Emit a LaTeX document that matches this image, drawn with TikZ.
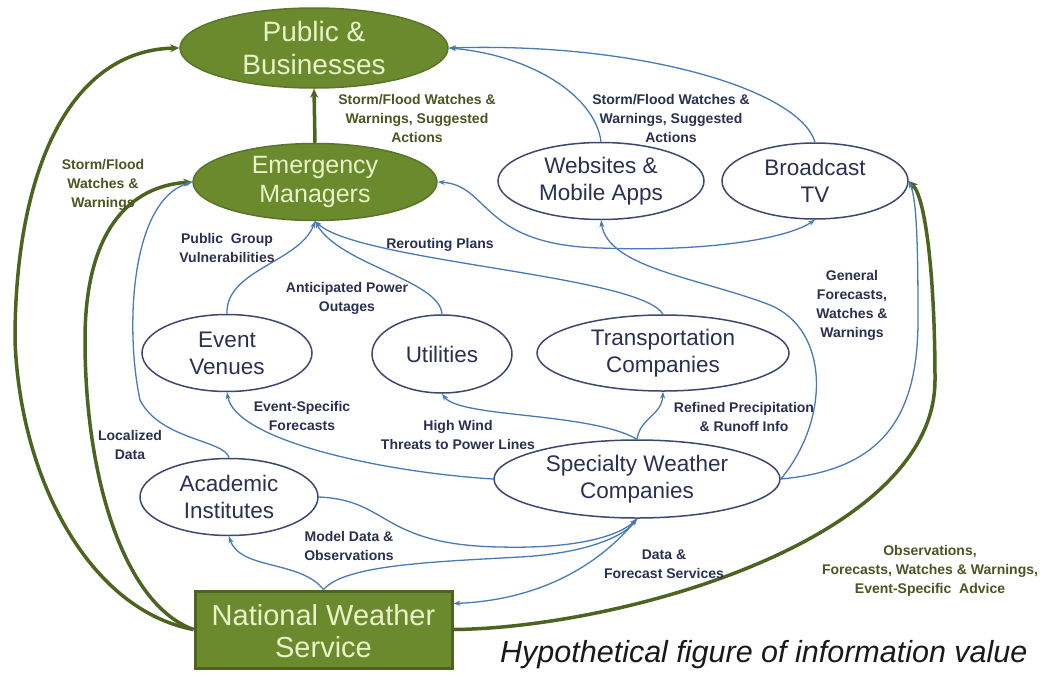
\documentclass[tikz,border=0pt]{standalone}
\usepackage{fontspec}
\setmainfont{Liberation Sans}
\usetikzlibrary{shapes.geometric,arrows.meta}

\definecolor{flowblue}{HTML}{4A79B8}
\definecolor{inknavy}{HTML}{2B3052}
\definecolor{ringnavy}{HTML}{3D4870}
\definecolor{leaffill}{HTML}{6B8A2E}
\definecolor{leafedge}{HTML}{58752A}
\definecolor{leafline}{HTML}{4D6320}
\definecolor{leaftext}{HTML}{E8F4C8}
\definecolor{olivetext}{HTML}{4E5421}

\tikzset{
  actor/.style={ellipse, draw=ringnavy, line width=1.5pt, fill=white, inner sep=0pt},
  actortext/.style={text=inknavy, align=center, font=\fontsize{22.5}{27}\selectfont},
  hub/.style={ellipse, draw=leafedge, line width=1.5pt, fill=leaffill, inner sep=0pt},
  hubtext/.style={text=leaftext, align=center},
  flow/.style={draw=flowblue, line width=1.3pt, -{Stealth[length=7pt,width=5pt]}},
  twoway/.style={draw=flowblue, line width=1.3pt, {Stealth[length=7pt,width=5pt]}-{Stealth[length=7pt,width=5pt]}},
  trunk/.style={draw=leafline, line width=3.5pt, -{Stealth[length=9pt,width=8pt]}},
  tag/.style={text=inknavy, align=center, inner sep=0pt, font=\fontsize{14}{19}\selectfont\bfseries},
  olivetag/.style={tag, text=olivetext},
}

\begin{document}
\begin{tikzpicture}[x=1pt,y=-1pt]
\useasboundingbox (0,0) rectangle (1054,672);
\fill[white] (0,0) rectangle (1054,672);

% ---- green hubs ----
\node[hub, minimum width=268pt, minimum height=80pt,
      label={[hubtext, font=\fontsize{28}{33}\selectfont]center:Public \&\\Businesses}] (pub) at (314,48) {};
\node[hub, minimum width=244pt, minimum height=77pt,
      label={[hubtext, font=\fontsize{25}{29}\selectfont]center:Emergency\\Managers}] (em) at (315,182) {};

% ---- outlined actors ----
\node[actor, minimum width=206pt, minimum height=77pt,
      label={[actortext]center:Websites \&\\Mobile Apps}] (web) at (601,181) {};
\node[actor, minimum width=186pt, minimum height=76pt,
      label={[actortext]center:Broadcast\\TV}] (bt) at (815,181) {};
\node[actor, minimum width=170pt, minimum height=77pt,
      label={[actortext]center:Event\\Venues}] (ev) at (227,353) {};
\node[actor, minimum width=140pt, minimum height=78pt,
      label={[actortext]center:Utilities}] (ut) at (442,354) {};
\node[actor, minimum width=252pt, minimum height=76pt,
      label={[actortext]center:Transportation\\Companies}] (tr) at (663,353) {};
\node[actor, minimum width=178pt, minimum height=77pt,
      label={[actortext]center:Academic\\Institutes}] (ac) at (229,497) {};
\node[actor, minimum width=286pt, minimum height=78pt,
      label={[actortext]center:Specialty Weather\\Companies}] (sp) at (637,479) {};

% ---- National Weather Service box ----
\node[rectangle, draw=leafline, line width=3pt, fill=leaffill,
      minimum width=257pt, minimum height=77pt,
      label={[hubtext, font=\fontsize{29}{32}\selectfont, yshift=-2pt]center:National Weather\\Service}] (nws) at (323.5,629.5) {};

% ---- heavy green channels ----
\draw[trunk] (em.north) -- (pub.south);
\draw[trunk] (nws.west) .. controls (90,610) and (20,480) .. (15,340)
  .. controls (15,170) and (70,50) .. (pub.west);
\draw[trunk] (nws.west) .. controls (125,605) and (85,480) .. (85,340)
  .. controls (85,230) and (130,186) .. (em.west);
\draw[trunk] (nws.east) .. controls (620,628) and (935,540) .. (935,380)
  .. controls (935,280) and (926,198) .. (bt.east);

% ---- media to the public ----
\draw[flow] (web.north) .. controls (595,95) and (530,55) .. (pub.east);
\draw[flow] (bt.north) .. controls (800,90) and (640,42) .. (pub.east);
\draw[twoway] (em.east) .. controls (490,185) and (480,245) .. (600,248)
  .. controls (700,252) and (785,240) .. (bt.south);

% ---- specialty weather companies outward ----
\draw[flow] (sp.east) .. controls (830,420) and (830,330) .. (770,305)
  .. controls (700,278) and (608,268) .. (web.south);
\draw[flow] (sp.east) .. controls (880,470) and (918,420) .. (918,320)
  .. controls (918,250) and (917,200) .. (bt.east);
\draw[flow] (sp.north) .. controls (640,418) and (662,415) .. (tr.south);
\draw[flow] (sp.north) .. controls (590,412) and (460,418) .. (ut.south);
\draw[flow] (sp.west) .. controls (380,472) and (235,440) .. (ev.south);

% ---- into the emergency managers ----
\draw[flow] (tr.north) .. controls (640,275) and (360,262) .. (em.south);
\draw[flow] (ut.north) .. controls (440,280) and (340,265) .. (em.south);
\draw[flow] (ev.north) .. controls (225,270) and (300,262) .. (em.south);
\draw[flow] (ac.north) .. controls (225,440) and (160,440) .. (140,400)
  .. controls (125,330) and (130,200) .. (em.west);

% ---- data exchange around the weather service ----
\draw[flow] (ac.east) .. controls (390,500) and (380,545) .. (500,547)
  .. controls (580,549) and (620,535) .. (sp.south);
\draw[flow] (nws.north) .. controls (345,565) and (430,562) .. (520,557)
  .. controls (590,553) and (625,535) .. (sp.south);
\draw[flow] (sp.south) .. controls (600,565) and (540,600) .. ([yshift=26pt]nws.east);
\draw[flow] (nws.north) .. controls (300,560) and (240,570) .. (ac.south);

% ---- connector labels ----
\node[olivetag] (t1) at (417,118) {Storm/Flood Watches \&\\Warnings, Suggested\\Actions};
\node[olivetag] (t2) at (103,185) {Storm/Flood\\Watches \&\\Warnings};
\node[tag] (t3) at (671,118) {Storm/Flood Watches \&\\Warnings, Suggested\\Actions};
\node[tag] (t4) at (227,248) {Public\ \ Group\\Vulnerabilities};
\node[tag] (t5) at (440,245) {Rerouting Plans};
\node[tag] (t6) at (347,298) {Anticipated Power\\Outages};
\node[tag] (t7) at (852,305) {General\\Forecasts,\\Watches \&\\Warnings};
\node[tag] (t8) at (744,417) {Refined Precipitation\\\& Runoff Info};
\node[tag] (t9) at (302,416) {Event-Specific\\Forecasts};
\node[tag] (t10) at (458,435) {High Wind\\Threats to Power Lines};
\node[tag] (t11) at (130,445) {Localized\\Data};
\node[tag] (t12) at (349,546) {Model Data \&\\Observations};
\node[tag] (t13) at (664,564) {Data \&\\Forecast Services};
\node[olivetag] (t14) at (930,571) {Observations,\\Forecasts, Watches \& Warnings,\\Event-Specific\ \ Advice};

% ---- caption ----
\node[anchor=base west, inner sep=0pt, text=black!90,
      font=\fontsize{30.5}{34}\selectfont\itshape] (cap) at (500,662) {Hypothetical figure of information value};
\end{tikzpicture}
\end{document}
